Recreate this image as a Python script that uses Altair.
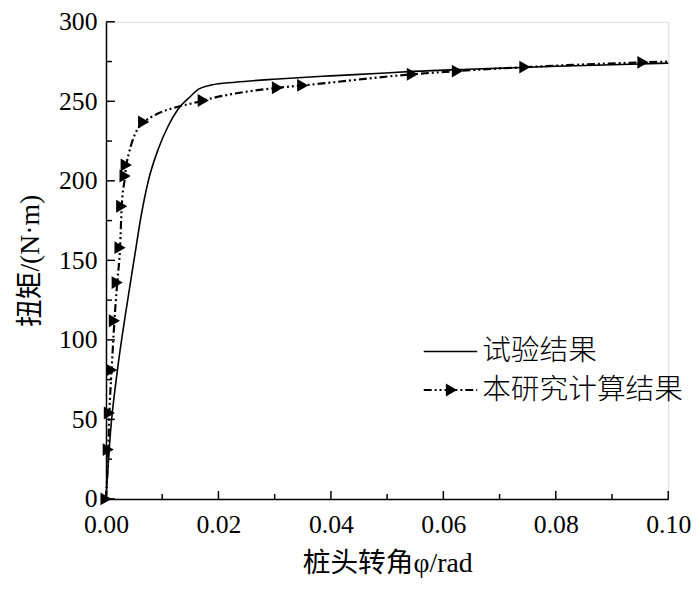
import altair as alt
import pandas as pd

# Experimental result (solid line)
exp_x = [0.0, 0.0008, 0.0020, 0.0035, 0.0052, 0.0062, 0.0076, 0.0093, 0.0110, 0.0128,
         0.0150, 0.0164, 0.0187, 0.0230, 0.0305, 0.0400, 0.0480, 0.0545, 0.0657, 0.0800,
         0.0900, 0.1000]
exp_y = [0, 42, 80, 117, 155, 177, 201, 220, 234, 245,
         253, 257.5, 260.2, 262, 264, 266, 267.5, 268.8, 270.3, 272,
         273, 274]

# Computed result (dash-dot-dot line with triangle markers)
calc_x = [0.0, 0.0004, 0.0006, 0.0010, 0.0015, 0.0020, 0.0025, 0.0028, 0.0034, 0.0036,
          0.0067, 0.0173, 0.0305, 0.0350, 0.0545, 0.0625, 0.0745, 0.0955]
calc_y = [0, 31, 54, 81, 112, 136, 158, 184, 203, 210,
          237, 250.5, 258.5, 260, 267, 269, 271.5, 274.5]
calc_end_x = [0.1000]
calc_end_y = [275]

x_major = [0.0, 0.02, 0.04, 0.06, 0.08, 0.10]
x_minor = [0.01, 0.03, 0.05, 0.07, 0.09]
y_major = [0, 50, 100, 150, 200, 250, 300]
y_minor = [25, 75, 125, 175, 225, 275]

legend_labels = ["试验结果", "本研究计算结果"]

W, H = 568, 482
LFONT = "Liberation Serif"
TFONT = "Liberation Serif, Noto Sans CJK SC"

exp_df = pd.DataFrame({"x": exp_x, "y": exp_y})
calc_df = pd.DataFrame({"x": calc_x, "y": calc_y})
calc_line_df = pd.DataFrame({"x": calc_x + calc_end_x, "y": calc_y + calc_end_y})

xs = alt.Scale(domain=[0, 0.10], nice=False)
ys = alt.Scale(domain=[0, 300], nice=False)

xenc = alt.X("x:Q", scale=xs, axis=alt.Axis(
    title="桩头转角φ/rad", values=x_major, format=".2f",
    labelFont=LFONT, labelFontSize=26, labelColor="black", labelPadding=13,
    titleFont=TFONT, titleFontSize=28, titleFontWeight="normal", titleColor="black",
    titlePadding=12, ticks=False, tickSize=0, grid=False,
    domainColor="black", domainWidth=1.5, labelFlush=False))
yenc = alt.Y("y:Q", scale=ys, axis=alt.Axis(
    title="扭矩/(N·m)", values=y_major,
    labelFont=LFONT, labelFontSize=26, labelColor="black", labelPadding=9,
    titleFont=TFONT, titleFontSize=28, titleFontWeight="normal", titleColor="black",
    titlePadding=14, ticks=False, tickSize=0, grid=False,
    domainColor="black", domainWidth=1.5, labelFlush=False))

exp_line = alt.Chart(exp_df).mark_line(
    color="black", strokeWidth=1.6, interpolate="monotone"
).encode(x=xenc, y=yenc)

calc_line = alt.Chart(calc_line_df).mark_line(
    color="black", strokeWidth=2.2, strokeDash=[8, 3, 2, 3, 2, 3], interpolate="monotone"
).encode(x=alt.X("x:Q", scale=xs), y=alt.Y("y:Q", scale=ys))

calc_pts = alt.Chart(calc_df).mark_point(
    shape="triangle-right", filled=True, color="black", size=170, opacity=1
).encode(x=alt.X("x:Q", scale=xs), y=alt.Y("y:Q", scale=ys))

# inward ticks
xmaj = alt.Chart(pd.DataFrame({"x": x_major})).mark_rule(color="black", strokeWidth=1.5).encode(
    x=alt.X("x:Q", scale=xs), y=alt.value(H), y2=alt.value(H - 8))
xmin = alt.Chart(pd.DataFrame({"x": x_minor})).mark_rule(color="black", strokeWidth=1.5).encode(
    x=alt.X("x:Q", scale=xs), y=alt.value(H), y2=alt.value(H - 5))
ymaj = alt.Chart(pd.DataFrame({"y": y_major})).mark_rule(color="black", strokeWidth=1.5).encode(
    y=alt.Y("y:Q", scale=ys), x=alt.value(0), x2=alt.value(9))
ymin = alt.Chart(pd.DataFrame({"y": y_minor})).mark_rule(color="black", strokeWidth=1.5).encode(
    y=alt.Y("y:Q", scale=ys), x=alt.value(0), x2=alt.value(6))

# legend
leg_base = alt.Chart(pd.DataFrame({"a": [0]}))
leg_l1 = leg_base.mark_rule(color="black", strokeWidth=1.6).encode(
    x=alt.value(321), x2=alt.value(375), y=alt.value(333))
leg_l2 = leg_base.mark_rule(color="black", strokeWidth=2.2, strokeDash=[8, 3, 2, 3, 2, 3]).encode(
    x=alt.value(321), x2=alt.value(375), y=alt.value(372))
leg_tri = leg_base.mark_point(shape="triangle-right", filled=True, color="black", size=170, opacity=1).encode(
    x=alt.value(349), y=alt.value(372))
leg_t = alt.Chart(pd.DataFrame({"t": legend_labels, "yy": [333, 372]})).mark_text(
    align="left", baseline="middle", font="Noto Sans CJK SC", fontSize=29, fontWeight=300, color="black"
).encode(text="t:N", x=alt.value(380), y=alt.Y("yy:Q", scale=None))

chart = alt.layer(
    exp_line, calc_line, calc_pts, xmaj, xmin, ymaj, ymin,
    leg_l1, leg_l2, leg_tri, leg_t
).properties(
    width=W, height=H,
    autosize=alt.AutoSizeParams(type="none"),
    padding={"left": 99, "top": 11, "right": 24, "bottom": 80}
).configure_view(stroke=None).configure(background="white")

chart.save("out.html", embed_options={"renderer": "svg", "actions": False})
